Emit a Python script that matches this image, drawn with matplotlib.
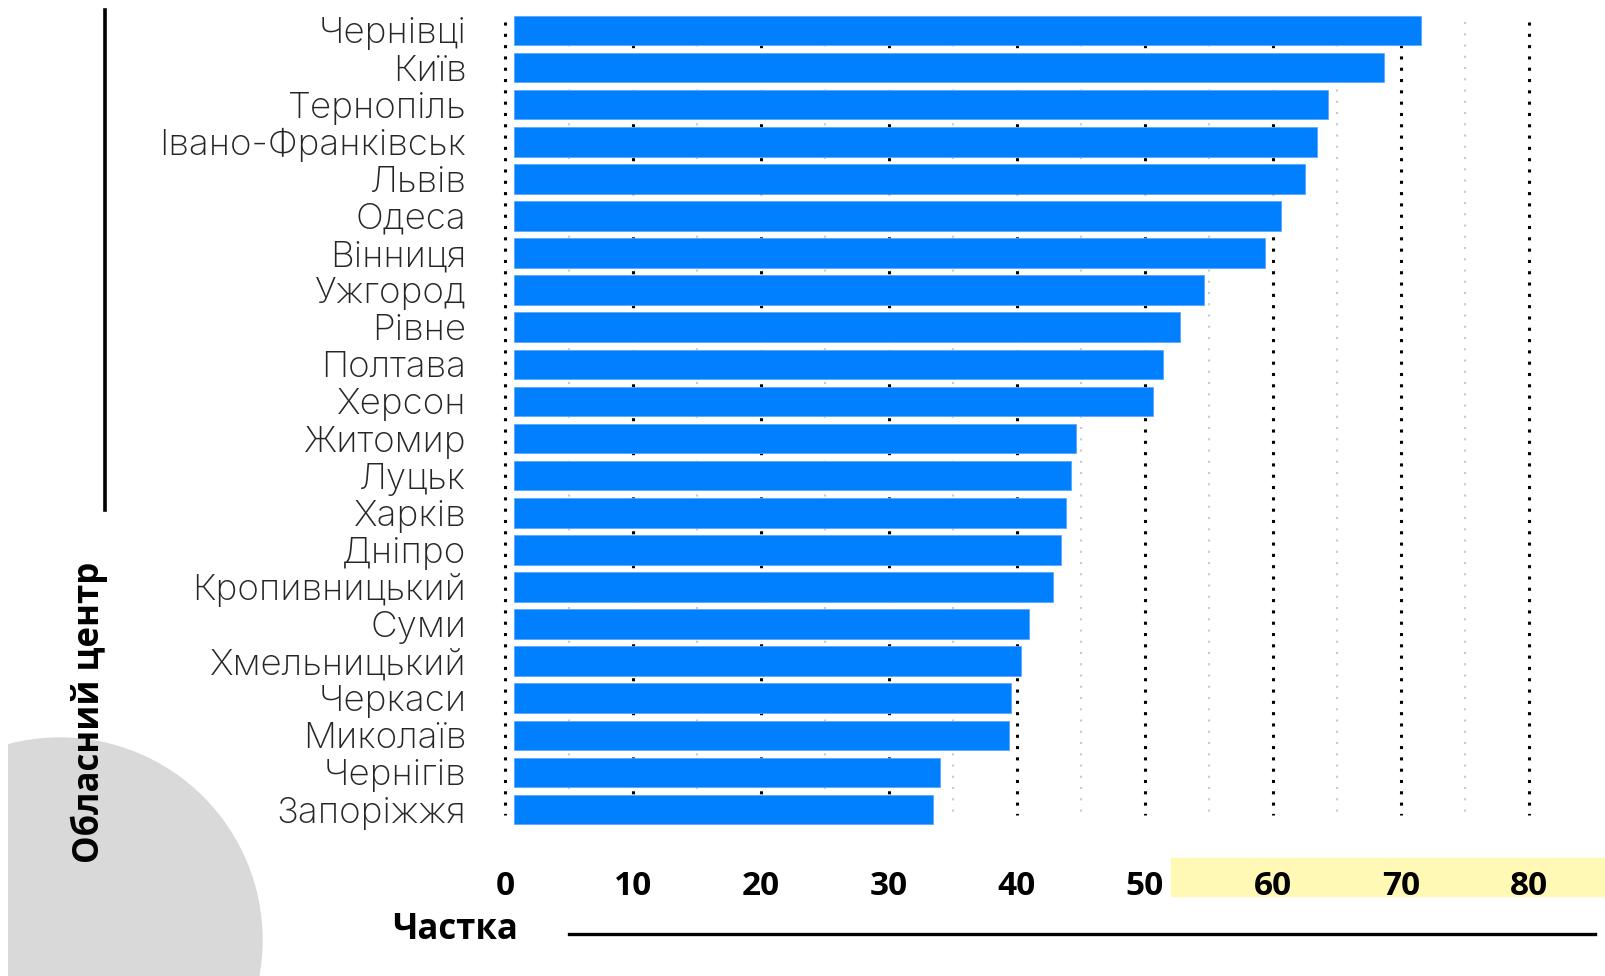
import numpy as np
import matplotlib
matplotlib.use("Agg")
import matplotlib.pyplot as plt
from matplotlib import patches

plt.rcParams['font.family'] = ['Open Sans', 'DejaVu Sans']

# data
cities = ['Чернівці', 'Київ', 'Тернопіль', 'Івано-Франківськ', 'Львів', 'Одеса',
          'Вінниця', 'Ужгород', 'Рівне', 'Полтава', 'Херсон', 'Житомир', 'Луцьк',
          'Харків', 'Дніпро', 'Кропивницький', 'Суми', 'Хмельницький', 'Черкаси',
          'Миколаїв', 'Чернігів', 'Запоріжжя']
share = [71.6, 68.7, 64.3, 63.4, 62.5, 60.6, 59.4, 54.6, 52.7, 51.4, 50.6,
         44.6, 44.2, 43.8, 43.4, 42.8, 40.9, 40.3, 39.5, 39.4, 34.0, 33.4]
xticks = [0, 10, 20, 30, 40, 50, 60, 70, 80]
minor_grid = [5, 15, 25, 35, 45, 55, 65, 75]
xlabel = 'Частка'
ylabel = 'Обласний центр'

W, H = 1606, 976
fig = plt.figure(figsize=(W / 100, H / 100), dpi=100)

# axes placed in pixel terms
x_left, x_right = -1.5, 86
ax = fig.add_axes([485.8 / W, 1 - 828.1 / H, 1120 / W, (828.1 - 11.9) / H])
ax.set_xlim(x_left, x_right)
ax.set_ylim(len(cities) - 0.5, -0.5)
ax.patch.set_alpha(0)

ind = np.arange(len(cities))
bar_start = 0.7  # bars sit a little right of the zero line
ax.barh(ind, np.array(share) - bar_start, left=bar_start, height=0.8,
        color='#0080ff', edgecolor='#5aa8ff', linewidth=0.6, zorder=3)

g_top, g_bot = -0.23, 21.14
ax.vlines(xticks, g_top, g_bot, colors='black', linewidth=2.2,
          linestyles=(0, (1, 2.7)), zorder=1)
ax.vlines(minor_grid, g_top, g_bot, colors='#c8c8c8', linewidth=1.5,
          linestyles=(0, (1, 4.4)), zorder=1)

for s in ax.spines.values():
    s.set_visible(False)

ax.set_yticks(ind)
ax.set_yticklabels(cities, fontsize=26.5, color='#262626', fontweight='light',
                   family=['Inter', 'Open Sans', 'DejaVu Sans'])
ax.set_xticks(xticks)
ax.set_xticklabels([str(t) for t in xticks], fontsize=24, fontweight='bold')
ax.tick_params(axis='both', length=0)
ax.tick_params(axis='y', pad=14)
ax.tick_params(axis='x', pad=30)

# decorations
fig.add_artist(patches.Rectangle((1171 / W, 1 - 896 / H), (W - 1171) / W, 38 / H,
                                 transform=fig.transFigure, color='#fff9b5', zorder=-1))
circ = patches.Ellipse((60 / W, 1 - 940 / H), 2 * 202 / W, 2 * 202 / H,
                       transform=fig.transFigure, color='#d9d9d9', zorder=-2)
fig.add_artist(circ)
clip = patches.Rectangle((8 / W, 0), 1, 1, transform=fig.transFigure)
circ.set_clip_path(clip)

fig.add_artist(plt.Line2D([105 / W, 105 / W], [1 - 10 / H, 1 - 510 / H],
                          transform=fig.transFigure, color='black', linewidth=2.6))
fig.add_artist(plt.Line2D([569 / W, 1595 / W], [1 - 934 / H, 1 - 934 / H],
                          transform=fig.transFigure, color='black', linewidth=2.4))

fig.text(455 / W, 1 - 930 / H, xlabel, fontsize=25, fontweight='bold',
         ha='center', va='center')
fig.text(89 / W, 1 - 712 / H, ylabel, fontsize=25, fontweight='bold',
         ha='center', va='center', rotation=90)

fig.savefig('out.png', dpi=100)
